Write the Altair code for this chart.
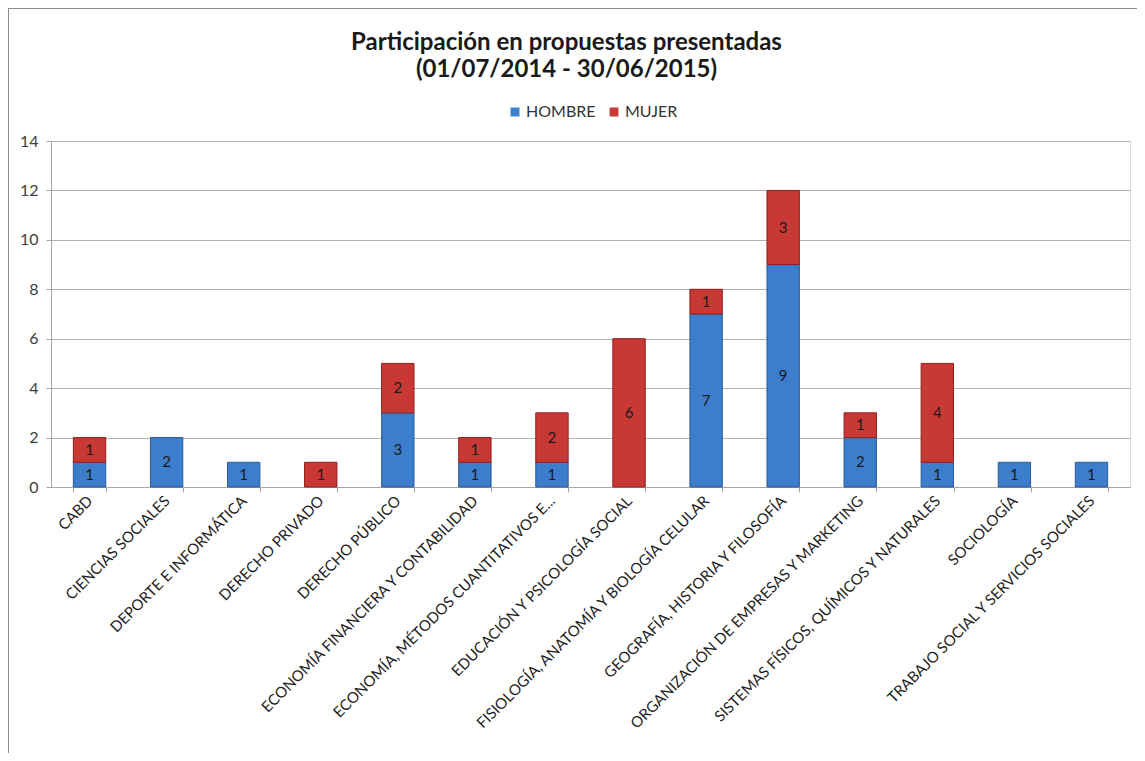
import altair as alt
import pandas as pd

categories = [
    "CABD",
    "CIENCIAS SOCIALES",
    "DEPORTE E INFORMÁTICA",
    "DERECHO PRIVADO",
    "DERECHO PÚBLICO",
    "ECONOMÍA FINANCIERA Y CONTABILIDAD",
    "ECONOMÍA, MÉTODOS CUANTITATIVOS E...",
    "EDUCACIÓN Y PSICOLOGÍA SOCIAL",
    "FISIOLOGÍA, ANATOMÍA Y BIOLOGÍA CELULAR",
    "GEOGRAFÍA, HISTORIA Y FILOSOFÍA",
    "ORGANIZACIÓN DE EMPRESAS Y MARKETING",
    "SISTEMAS FÍSICOS, QUÍMICOS Y NATURALES",
    "SOCIOLOGÍA",
    "TRABAJO SOCIAL Y SERVICIOS SOCIALES",
]
hombre = [1, 2, 1, 0, 3, 1, 1, 0, 7, 9, 2, 1, 1, 1]
mujer = [1, 0, 0, 1, 2, 1, 2, 6, 1, 3, 1, 4, 0, 0]
series = ["HOMBRE", "MUJER"]
y_ticks = [0, 2, 4, 6, 8, 10, 12, 14]

rows = []
for c, h, m in zip(categories, hombre, mujer):
    rows.append({"cat": c, "sexo": series[0], "n": h, "ord": 0})
    rows.append({"cat": c, "sexo": series[1], "n": m, "ord": 1})
df = pd.DataFrame(rows)

FONT = "Lato"

base = (
    alt.Chart(df)
    .transform_filter("datum.n > 0")
    .transform_stack(stack="n", groupby=["cat"], as_=["y0", "y1"],
                     sort=[alt.SortField("ord", order="ascending")])
    .transform_calculate(ym="(datum.y0 + datum.y1) / 2")
)

x_enc = alt.X(
    "cat:N", sort=categories,
    scale=alt.Scale(paddingInner=0.58, paddingOuter=0.29),
    axis=alt.Axis(title=None, labelAngle=-45, labelAlign="right", labelBaseline="middle",
                  tickBand="extent", tickSize=5, tickColor="#a6a6a6",
                  domainColor="#a6a6a6", labelFont=FONT, labelFontSize=15,
                  labelColor="#1e1e1e", labelPadding=6, labelLimit=400, grid=False),
)
y_enc = alt.Y(
    "y0:Q",
    scale=alt.Scale(domain=[0, 14], nice=False),
    axis=alt.Axis(title=None, values=y_ticks, tickSize=5, tickColor="#a6a6a6",
                  domainColor="#a6a6a6", gridColor="#b3b3b3", labelFont=FONT,
                  labelFontSize=16, labelColor="#404040", labelPadding=8),
)

bars = base.mark_bar(strokeWidth=1).encode(
    x=x_enc,
    y=y_enc,
    y2="y1:Q",
    color=alt.Color(
        "sexo:N",
        scale=alt.Scale(domain=series, range=["#3c7dcc", "#c83835"]),
        legend=alt.Legend(title=None, orient="none", direction="horizontal",
                          legendX=456, legendY=-37, symbolType="square",
                          symbolSize=80, symbolStrokeWidth=0, labelFont=FONT,
                          labelFontSize=16, labelColor="#333333",
                          columnPadding=10, labelOffset=3),
    ),
    stroke=alt.Stroke("sexo:N",
                      scale=alt.Scale(domain=series, range=["#2a5a96", "#8e1f1c"]),
                      legend=None),
)

text = base.mark_text(font=FONT, fontSize=15, color="#1a1a1a").encode(
    x=alt.X("cat:N", sort=categories),
    y=alt.Y("ym:Q"),
    text="n:Q",
)

# chart frame (decoration: the outer border of the original chart area)
frame_left = alt.Chart(df).mark_rule(color="#8c8c8c", strokeWidth=2).encode(
    x=alt.value(-43), y=alt.value(-133), y2=alt.value(660)
)
frame_top = alt.Chart(df).mark_rule(color="#8c8c8c", strokeWidth=2).encode(
    x=alt.value(-43), x2=alt.value(1110), y=alt.value(-133)
)

chart = (
    alt.layer(frame_left, frame_top, bars, text)
    .properties(
        width=1079,
        height=346,
        autosize=alt.AutoSizeParams(type="none"),
        padding={"left": 43, "top": 133, "right": 7, "bottom": 266},
        title=alt.TitleParams(
            ["Participación  en propuestas presentadas", "(01/07/2014 - 30/06/2015)"],
            anchor="middle", font=FONT, fontSize=24, fontWeight="bold",
            color="#1a1a1a", offset=19, dx=-24, dy=94, lineHeight=27,
        ),
    )
    .configure_view(stroke=None)
    .configure(background="white")
)

chart.save("out.html", embed_options={"renderer": "svg", "actions": False})
